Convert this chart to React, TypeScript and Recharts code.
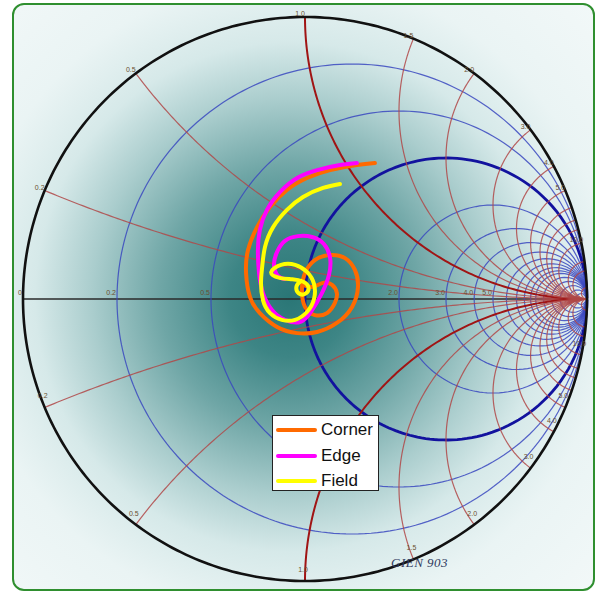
import React from 'react';
import { ScatterChart, Scatter, XAxis, YAxis, ReferenceLine } from 'recharts';

// Smith chart grid values
const RESISTANCES = [0.2, 0.5, 1, 2, 3, 4, 5, 6, 7, 8, 9, 10, 12, 15, 20, 30, 50];
const REACTANCES = [0.2, 0.5, 1, 1.5, 2, 3, 4, 5, 6, 7, 8, 10, 15, 20, 50];
const AXIS_LABELS = [0.2, 0.5, 2, 3, 4, 5];
const ARC_LABELS = [0.2, 0.5, 1, 1.5, 2, 3, 4, 5, 10];

// traces, reflection coefficient [re, im]
const SERIES_NAMES = ['Corner', 'Edge', 'Field'];
const SERIES_COLORS = ['#ff6a00', '#ff00ff', '#ffff00'];

const CORNER: [number, number][] = [
  [0.248, 0.482], [0.184, 0.475], [0.089, 0.457], [0.007, 0.429], [-0.064, 0.387],
  [-0.124, 0.326], [-0.17, 0.255], [-0.202, 0.174], [-0.209, 0.092], [-0.195, 0.007],
  [-0.16, -0.05], [-0.099, -0.099], [-0.028, -0.121], [0.043, -0.117], [0.113, -0.085],
  [0.167, -0.028], [0.188, 0.043], [0.177, 0.103], [0.142, 0.145], [0.089, 0.156],
  [0.035, 0.138], [0.0, 0.092], [-0.011, 0.032], [0.0, -0.028], [0.035, -0.057],
  [0.078, -0.05], [0.106, -0.014], [0.113, 0.021], [0.096, 0.05], [0.064, 0.057],
  [0.028, 0.043], [-0.007, 0.05],
];

const EDGE: [number, number][] = [
  [0.184, 0.482], [0.124, 0.475], [0.043, 0.457], [-0.028, 0.429], [-0.089, 0.379],
  [-0.135, 0.316], [-0.16, 0.245], [-0.167, 0.174], [-0.163, 0.092], [-0.149, 0.021],
  [-0.117, -0.039], [-0.071, -0.074], [-0.018, -0.082], [0.021, -0.046], [0.06, 0.021],
  [0.085, 0.085], [0.089, 0.145], [0.067, 0.195], [0.025, 0.22], [-0.025, 0.223],
  [-0.071, 0.206], [-0.099, 0.167], [-0.11, 0.121], [-0.096, 0.082], [-0.071, 0.071],
];

const FIELD: [number, number][] = [
  [0.124, 0.408], [0.064, 0.394], [-0.007, 0.362], [-0.064, 0.316], [-0.113, 0.255],
  [-0.142, 0.184], [-0.152, 0.113], [-0.156, 0.057], [-0.149, -0.004], [-0.124, -0.05],
  [-0.082, -0.074], [-0.035, -0.074], [0.007, -0.046], [0.032, 0.0], [0.032, 0.053],
  [0.007, 0.096], [-0.035, 0.121], [-0.085, 0.121], [-0.12, 0.095], [-0.09, 0.075],
  [-0.045, 0.07], [-0.008, 0.062], [0.012, 0.043], [0.003, 0.02], [-0.022, 0.02],
  [-0.03, 0.045], [-0.014, 0.064],
];

const TRACES = [CORNER, EDGE, FIELD];

// z = a + jb  ->  gamma
const gamma = (a: number, b: number) => {
  const d = (a + 1) * (a + 1) + b * b;
  return { x: (a * a + b * b - 1) / d, y: (2 * b) / d };
};

const resistanceCircle = (r: number) => {
  const pts = [];
  const n = 240;
  for (let i = 0; i <= n; i++) {
    const th = -Math.PI / 2 + 0.001 + ((Math.PI - 0.002) * i) / n;
    pts.push(gamma(r, Math.tan(th)));
  }
  return pts;
};

const reactanceArc = (x: number) => {
  const pts = [];
  const n = 160;
  for (let i = 0; i <= n; i++) {
    const t = (0.999 * i) / n;
    pts.push(gamma(t / (1 - t), x));
  }
  return pts;
};

const outerCircle = () => {
  const pts = [];
  for (let i = 0; i <= 360; i++) {
    const a = (i * Math.PI) / 180;
    pts.push({ x: Math.cos(a), y: Math.sin(a) });
  }
  return pts;
};

const axisLabelData = [
  { x: -1, y: 0, label: '0' },
  ...AXIS_LABELS.map((r) => ({ ...gamma(r, 0), label: r.toFixed(1) })),
];

const arcLabelData = ARC_LABELS.flatMap((x) => {
  const p = gamma(0, x);
  return [
    { x: p.x, y: p.y, label: x.toFixed(1), side: 1 },
    { x: p.x, y: -p.y, label: x.toFixed(1), side: -1 },
  ];
});

const noDot = () => <g />;

const AxisLabel = (props: any) => (
  <text
    x={props.cx}
    y={props.cy}
    dx={-1}
    dy={-4}
    textAnchor="end"
    fontSize={7}
    fontFamily="Liberation Sans, Arial, sans-serif"
    fill="#6a5030"
  >
    {props.payload.label}
  </text>
);

const ArcLabel = (props: any) => {
  const top = props.payload.side > 0;
  return (
    <text
      x={props.cx}
      y={props.cy}
      dx={top ? -5 : -2}
      dy={top ? -1 : -9}
      textAnchor="middle"
      fontSize={7}
      fontFamily="Liberation Sans, Arial, sans-serif"
      fill="#6a5030"
    >
      {props.payload.label}
    </text>
  );
};

export default function App() {
  return (
    <div
      style={{
        position: 'absolute',
        left: 0,
        top: 0,
        width: 597,
        height: 593,
        background: '#fff',
        overflow: 'hidden',
      }}
    >
      <div
        style={{
          position: 'absolute',
          left: 12,
          top: 3,
          width: 579,
          height: 584,
          border: '2px solid #2f8f2f',
          borderRadius: 12,
          background:
            'radial-gradient(circle at 276px 292px, #2a7676 0px, #3d8585 60px, #6fa6a6 130px, #aacdcd 198px, #d6e9e9 255px, #eaf4f4 320px, #f2f8f8 420px)',
        }}
      />
      <div style={{ position: 'absolute', left: 0, top: 0 }}>
        <ScatterChart width={597} height={593} margin={{ top: 17, right: 10, bottom: 12, left: 23 }}>
          <XAxis type="number" dataKey="x" domain={[-1, 1]} hide />
          <YAxis type="number" dataKey="y" domain={[-1, 1]} hide />

          {RESISTANCES.map((r) => (
            <Scatter
              key={'r' + r}
              data={resistanceCircle(r)}
              shape={noDot}
              line={{
                stroke: r === 1 ? '#12129e' : '#3a48c0',
                strokeWidth: r === 1 ? 2.8 : 1.2,
                strokeOpacity: r === 1 ? 1 : 0.85,
              }}
              isAnimationActive={false}
            />
          ))}
          {REACTANCES.flatMap((x) => [x, -x]).map((x) => (
            <Scatter
              key={'x' + x}
              data={reactanceArc(x)}
              shape={noDot}
              line={{
                stroke: Math.abs(x) === 1 ? '#a01414' : '#b04848',
                strokeWidth: Math.abs(x) === 1 ? 2 : 1.2,
                strokeOpacity: Math.abs(x) === 1 ? 1 : 0.85,
              }}
              isAnimationActive={false}
            />
          ))}

          <ReferenceLine y={0} stroke="#2a2a2a" strokeWidth={1.6} />

          <Scatter
            data={outerCircle()}
            shape={noDot}
            line={{ stroke: '#111', strokeWidth: 2.6 }}
            isAnimationActive={false}
          />

          <Scatter data={axisLabelData} shape={AxisLabel} isAnimationActive={false} />
          <Scatter data={arcLabelData} shape={ArcLabel} isAnimationActive={false} />

          {TRACES.map((tr, i) => (
            <Scatter
              key={SERIES_NAMES[i]}
              name={SERIES_NAMES[i]}
              data={tr.map(([x, y]) => ({ x, y }))}
              shape={noDot}
              line={{ stroke: SERIES_COLORS[i], strokeWidth: 4, strokeLinecap: 'round' }}
              lineJointType="natural"
              isAnimationActive={false}
            />
          ))}
        </ScatterChart>
      </div>

      {/* legend */}
      <div
        style={{
          position: 'absolute',
          left: 272,
          top: 415,
          width: 105,
          height: 74,
          background: '#fff',
          border: '1px solid #222',
          fontFamily: 'Liberation Sans, Arial, sans-serif',
        }}
      >
        {SERIES_NAMES.map((name, i) => (
          <div key={name} style={{ position: 'absolute', left: 0, top: 3 + i * 25.5, height: 24, width: 105 }}>
            <div
              style={{
                position: 'absolute',
                left: 3,
                top: 9,
                width: 41,
                height: 4,
                borderRadius: 2,
                background: SERIES_COLORS[i],
              }}
            />
            <div
              style={{
                position: 'absolute',
                left: 48,
                top: 1,
                fontSize: 17,
                lineHeight: '20px',
                color: '#111',
              }}
            >
              {name}
            </div>
          </div>
        ))}
      </div>

      <div
        style={{
          position: 'absolute',
          left: 391,
          top: 555,
          fontFamily: 'Liberation Serif, Times New Roman, serif',
          fontStyle: 'italic',
          fontSize: 13,
          color: '#2f3a60',
          letterSpacing: 0.5,
        }}
      >
        GIEN 903
      </div>
    </div>
  );
}
